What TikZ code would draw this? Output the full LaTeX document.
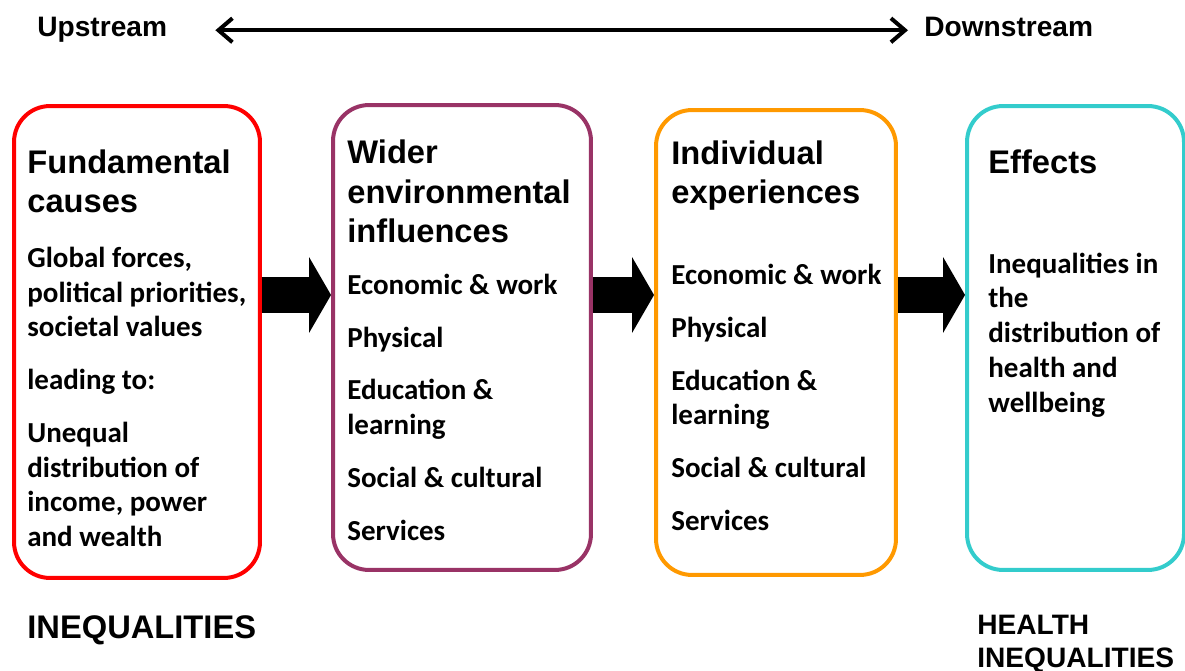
\documentclass[tikz,border=0pt]{standalone}
\usepackage{fontspec}
\setmainfont{Carlito}
\newfontfamily\headfont{Liberation Sans}
\usepackage{tikz}
\usetikzlibrary{calc,arrows.meta}
\definecolor{cause_red}{HTML}{FF0000}
\definecolor{wider_plum}{HTML}{993366}
\definecolor{indiv_orange}{HTML}{FF9900}
\definecolor{effect_cyan}{HTML}{33CCCC}

\begin{document}
\begin{tikzpicture}[x=0.02cm,y=-0.02cm,
    box/.style={draw=#1,line width=0.08cm,rounded corners=0.72cm,inner sep=0pt},
    boxhead/.style={anchor=north west,inner sep=0pt,align=left,font=\headfont\bfseries\fontsize{18.6}{22.4}\selectfont},
    boxbody/.style={anchor=north west,inner sep=0pt,align=left,font=\bfseries\fontsize{16.5}{19.8}\selectfont},
    streamtext/.style={anchor=base west,inner sep=0pt,font=\headfont\bfseries\fontsize{16}{18.7}\selectfont},
    fatarrow/.style={line width=0.72cm,-{Triangle[length=0.44cm,width=1.52cm,line width=0pt]}}]
              \useasboundingbox (0,0) rectangle (1185,671);
              % upstream / downstream
              \node[streamtext] (up) at (37,37) {Upstream};
              \node[streamtext] (down) at (924,37) {Downstream};
              \draw[line width=0.08cm,line cap=round,{Straight Barb[length=0.28cm,width=0.48cm]}-{Straight Barb[length=0.28cm,width=0.48cm]},
                shorten <=0.96cm,shorten >=0.32cm] (up.east) -- (up.east -| down.west);
              % the four boxes
              \node[box=cause_red,minimum width=4.92cm,minimum height=9.44cm] (causes) at (137,342) {};
              \node[box=wider_plum,minimum width=5.16cm,minimum height=9.3cm] (wider) at (462,337.5) {};
              \node[box=indiv_orange,minimum width=4.8cm,minimum height=9.3cm] (indiv) at (776,342.5) {};
              \node[box=effect_cyan,minimum width=4.34cm,minimum height=9.28cm] (effects) at (1075.5,338) {};
              % block arrows
              \coordinate (level) at (0,295);
              \draw[fatarrow] (causes.east |- level) -- (wider.west |- level);
              \draw[fatarrow] (wider.east |- level) -- (indiv.west |- level);
              \draw[fatarrow] (indiv.east |- level) -- (effects.west |- level);
              % texts in the boxes
              \node[boxhead] (causeshead) at (27,149.5) {Fundamental\\causes};
              \node[boxbody] (causesbody) at (27,246.7) {Global forces,\\political priorities,\\societal values\\[10.2pt]leading to:\\[10.2pt]Unequal\\distribution of\\income, power\\and wealth};
              \node[boxhead] (widerhead) at (347,139.8) {Wider\\environmental\\influences};
              \node[boxbody] (widerbody) at (347,273.7) {Economic \& work\\[10.2pt]Physical\\[10.2pt]Education \&\\learning\\[10.2pt]Social \& cultural\\[10.2pt]Services};
              \node[boxhead] (indivhead) at (671,140.5) {Individual\\experiences};
              \node[boxbody] (indivbody) at (671,264) {Economic \& work\\[10.2pt]Physical\\[10.2pt]Education \&\\learning\\[10.2pt]Social \& cultural\\[10.2pt]Services};
              \node[boxhead] (effectshead) at (988,149) {Effects};
              \node[boxbody] (effectsbody) at (988,252.4) {Inequalities in\\the\\distribution of\\health and\\wellbeing};
              % bottom labels
              \node[streamtext,font=\headfont\bfseries\fontsize{18.6}{22.4}\selectfont] (ineq) at (27,638) {INEQUALITIES};
              \node[streamtext,anchor=north west,align=left] (healthineq) at (977,615) {HEALTH\\INEQUALITIES};
          \end{tikzpicture}
\end{document}
